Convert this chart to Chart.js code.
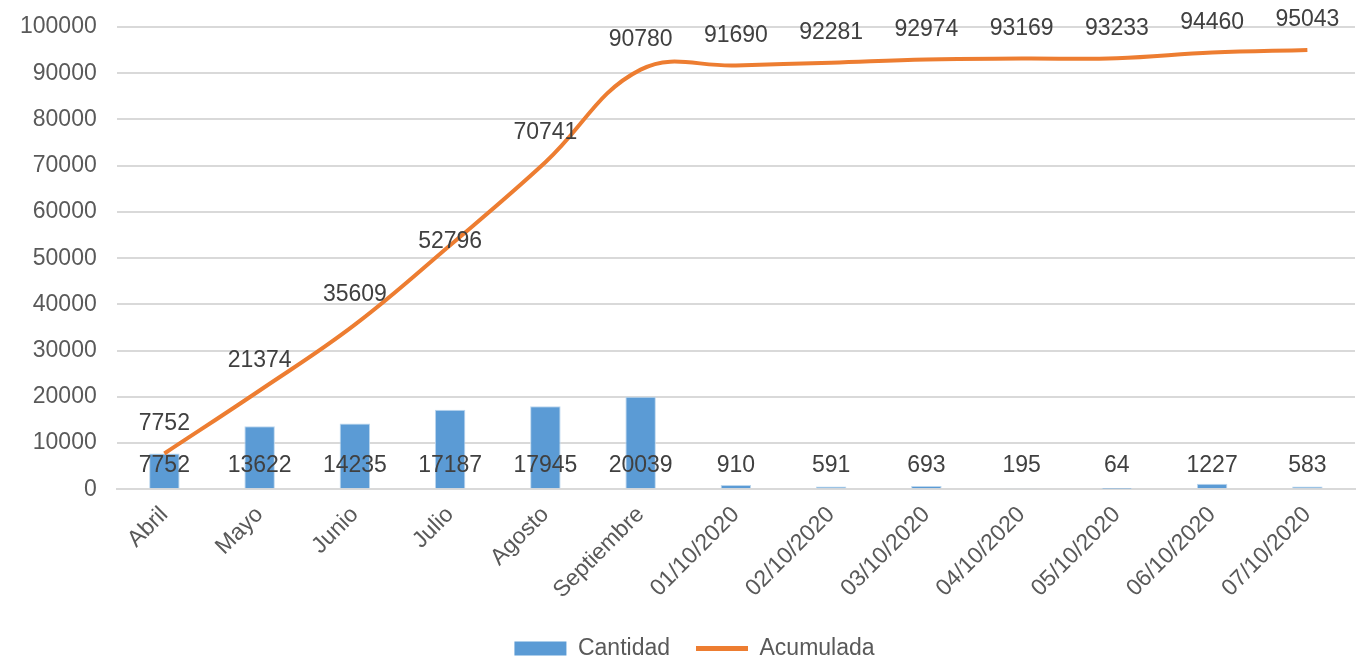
<!DOCTYPE html>
<html lang="es">
<head>
    <meta charset="UTF-8">
    <title>Cantidad y Acumulada</title>
    <script src="https://cdn.jsdelivr.net/npm/chart.js"></script>
    <style>
        body { margin: 0; background: #fff; }
        #chart { display: block; }
    </style>
</head>
<body>
    <canvas id="chart" width="1361" height="659"></canvas>

    <script>
        const categories = ['Abril', 'Mayo', 'Junio', 'Julio', 'Agosto', 'Septiembre',
            '01/10/2020', '02/10/2020', '03/10/2020', '04/10/2020', '05/10/2020', '06/10/2020', '07/10/2020'];
        const cantidad = [7752, 13622, 14235, 17187, 17945, 20039, 910, 591, 693, 195, 64, 1227, 583];
        const acumulada = [7752, 21374, 35609, 52796, 70741, 90780, 91690, 92281, 92974, 93169, 93233, 94460, 95043];

        const family = '"Liberation Sans", Arial, sans-serif';

        // draws the value labels (bars near the base, line above each point)
        const valueLabels = {
            id: 'valueLabels',
            afterDatasetsDraw(chart) {
                const ctx = chart.ctx;
                ctx.save();
                ctx.font = '23px ' + family;
                ctx.fillStyle = '#404040';
                ctx.textAlign = 'center';
                ctx.textBaseline = 'middle';
                const yBase = chart.scales.y.getPixelForValue(0);
                chart.getDatasetMeta(0).data.forEach((el, i) => {
                    ctx.fillText(String(cantidad[i]), el.x, yBase - 24);
                });
                chart.getDatasetMeta(1).data.forEach((el, i) => {
                    // the Julio label sits on the line in the original
                    const lift = i === 3 ? 4 : 30;
                    ctx.fillText(String(acumulada[i]), el.x, el.y - lift);
                });
                ctx.restore();
            }
        };

        // nudge the legend a bit right, like the original
        const legendShift = {
            id: 'legendShift',
            afterLayout(chart) {
                if (chart.legend) {
                    chart.legend.left += 17;
                    chart.legend.right += 17;
                }
            }
        };

        new Chart(document.getElementById('chart'), {
            data: {
                labels: categories,
                datasets: [
                    {
                        type: 'bar',
                        label: 'Cantidad',
                        data: cantidad,
                        backgroundColor: '#5B9BD5',
                        borderColor: '#BDD7EE',
                        borderWidth: 1,
                        barPercentage: 0.64,
                        categoryPercentage: 0.5,
                        order: 2
                    },
                    {
                        type: 'line',
                        label: 'Acumulada',
                        data: acumulada,
                        borderColor: '#ED7D31',
                        backgroundColor: '#ED7D31',
                        borderWidth: 4,
                        pointRadius: 0,
                        tension: 0.4,
                        order: 1
                    }
                ]
            },
            options: {
                responsive: false,
                devicePixelRatio: 1,
                animation: false,
                layout: { padding: { top: 27, right: 6, left: 0, bottom: -11 } },
                plugins: {
                    tooltip: { enabled: false },
                    legend: {
                        position: 'bottom',
                        labels: {
                            usePointStyle: true,
                            pointStyleWidth: 52,
                            boxHeight: 14,
                            padding: 26,
                            color: '#595959',
                            font: { family: family, size: 23 },
                            generateLabels(chart) {
                                return chart.data.datasets.map((ds, i) => ({
                                    text: ds.label,
                                    fillStyle: ds.backgroundColor,
                                    strokeStyle: ds.type === 'line' ? ds.borderColor : ds.backgroundColor,
                                    lineWidth: ds.type === 'line' ? 5 : 0,
                                    pointStyle: ds.type === 'line' ? 'line' : 'rect',
                                    fontColor: '#595959',
                                    datasetIndex: i,
                                    hidden: false
                                }));
                            }
                        }
                    }
                },
                scales: {
                    x: {
                        grid: { display: false },
                        border: { display: true, color: '#D9D9D9', width: 2 },
                        afterFit(scale) { scale.height += 3; },
                        ticks: {
                            color: '#595959',
                            font: { family: family, size: 23 },
                            minRotation: 45,
                            maxRotation: 45,
                            padding: 4
                        }
                    },
                    y: {
                        min: 0,
                        max: 100000,
                        border: { display: false },
                        grid: { color: '#D9D9D9', lineWidth: 2, drawTicks: false },
                        afterFit(scale) { scale.paddingTop = 0; },
                        ticks: {
                            stepSize: 10000,
                            color: '#595959',
                            padding: 20,
                            font: { family: family, size: 23 },
                            callback: v => String(v)
                        }
                    }
                }
            },
            plugins: [valueLabels, legendShift]
        });
    </script>
</body>
</html>
